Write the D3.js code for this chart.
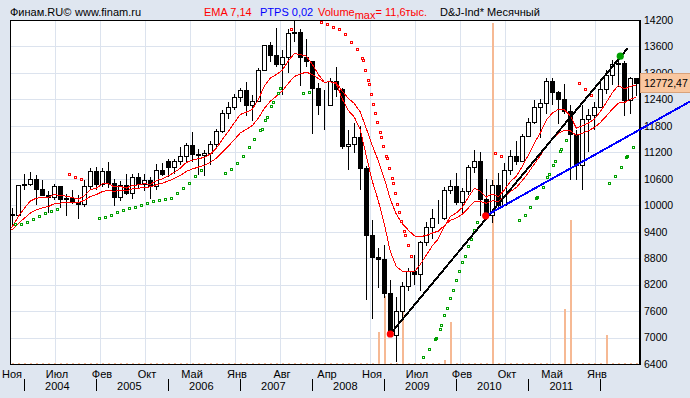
<!DOCTYPE html>
<html>
<head>
<meta charset="utf-8">
<script src="https://d3js.org/d3.v7.min.js"></script>
<style>
  body { margin: 0; background: #dfe6f0; }
  svg { display: block; font-family: "Liberation Sans", Arial, sans-serif; }
</style>
</head>
<body>
<svg width="690" height="398"></svg>
<script>
// D&J-Ind monthly candles, index 0 = Nov 2003 ... index 104 = Jul 2012
var opens = [
  9801, 9782, 10452, 10488, 10584, 10358, 10226, 10188, 10435, 10140,
  10174, 10080, 10027, 10428, 10783, 10490, 10766, 10504, 10193, 10467,
  10275, 10641, 10482, 10569, 10440, 10806, 10995, 10865, 10993, 11109,
  11367, 11168, 11150, 11186, 11381, 11679, 12081, 12222, 12463, 12622,
  12269, 12354, 13063, 13628, 13409, 13212, 13358, 13896, 13930, 13372,
  13262, 12650, 12266, 12263, 12820, 12638, 11350, 11378, 11544, 10851,
  9325, 8829, 8772, 8001, 7063, 7609, 8168, 8500, 8447, 9172,
  9496, 9712, 9713, 10345, 10428, 10067, 10325, 10857, 11009, 10137,
  9774, 10466, 10015, 10788, 11118, 11006, 11578, 11892, 12226, 12320,
  12811, 12570, 12414, 12143, 11614, 10913, 11955, 12046, 12218, 12633,
  12952, 13212, 13214, 12393, 12880
];
var highs = [
  9933, 10453, 10702, 10753, 10678, 10570, 10317, 10479, 10435, 10251,
  10342, 10239, 10573, 10855, 10868, 10841, 10984, 10604, 10542, 10709,
  10705, 10720, 10717, 10644, 10941, 10960, 11043, 11058, 11317, 11411,
  11670, 11282, 11244, 11461, 11718, 12167, 12342, 12529, 12658, 12786,
  12490, 13120, 13633, 13692, 14022, 13513, 14000, 14198, 13995, 13779,
  13279, 12767, 12622, 12891, 13136, 12668, 11698, 11867, 11791, 10882,
  9654, 9026, 9088, 8315, 7925, 8265, 8588, 8878, 9199, 9630,
  9918, 10119, 10406, 10580, 10729, 10402, 10907, 11258, 11205, 10595,
  10580, 10720, 10948, 11245, 11451, 11625, 11986, 12391, 12419, 12876,
  12876, 12580, 12753, 12284, 11717, 12284, 12188, 12330, 12841, 13056,
  13290, 13338, 13280, 12898, 12896
];
var lows = [
  9537, 9762, 10368, 10450, 10030, 10225, 9852, 10138, 9961, 9785,
  10048, 9708, 9991, 10387, 10368, 10430, 10404, 10013, 10108, 10252,
  10170, 10397, 10337, 10156, 10379, 10686, 10667, 10732, 10931, 10979,
  11009, 10699, 10684, 10929, 11336, 11653, 11987, 12183, 12366, 12051,
  11926, 12354, 13062, 13266, 13152, 12518, 13028, 13730, 12724, 13168,
  11634, 12069, 11731, 12263, 12478, 11288, 10827, 11210, 10365, 7882,
  7449, 8149, 7909, 7042, 6470, 7473, 8087, 8221, 8088, 9091,
  9252, 9595, 9679, 10281, 10039, 9836, 10265, 10745, 9774, 9758,
  9614, 9937, 9998, 10711, 10929, 11006, 11578, 11859, 11555, 12093,
  12285, 11862, 12093, 10604, 10597, 10362, 11231, 11735, 12218, 12553,
  12747, 12710, 12035, 12101, 12492
];
var closes = [
  9782, 10453, 10488, 10584, 10358, 10226, 10188, 10435, 10140, 10174,
  10080, 10027, 10428, 10783, 10490, 10766, 10504, 10193, 10467, 10275,
  10641, 10482, 10569, 10440, 10806, 10718, 10865, 10993, 11109, 11367,
  11168, 11150, 11186, 11381, 11679, 12081, 12222, 12463, 12622, 12269,
  12354, 13063, 13628, 13409, 13212, 13358, 13896, 13930, 13372, 13265,
  12650, 12266, 12263, 12820, 12638, 11350, 11378, 11544, 10851, 9325,
  8829, 8776, 8001, 7063, 7609, 8168, 8500, 8447, 9172, 9496,
  9712, 9713, 10345, 10428, 10067, 10325, 10857, 11009, 10137, 9774,
  10466, 10015, 10788, 11118, 11006, 11578, 11892, 12226, 12320, 12811,
  12570, 12414, 12143, 11614, 10913, 11955, 12046, 12218, 12633, 12952,
  13212, 13214, 12393, 12880, 12772.47
];
// volume, thousands
var volumes = [
  0.05, 0.05, 0.05, 0.05, 0.05, 0.05, 0.05, 0.05, 0.05, 0.05,
  0.05, 0.05, 0.05, 0.05, 0.05, 0.05, 0.05, 0.05, 0.05, 0.05,
  0.05, 0.05, 0.05, 0.05, 0.05, 0.05, 0.05, 0.05, 0.05, 0.05,
  0.05, 0.05, 0.05, 0.05, 0.05, 0.05, 0.05, 0.05, 0.05, 0.05,
  0.05, 0.05, 0.05, 0.05, 0.05, 0.05, 0.05, 0.05, 0.05, 0.05,
  0.05, 0.05, 0.05, 0.05, 0.05, 0.05, 0.05, 0.05, 0.05, 0.05,
  0.05, 1.08, 2.29, 0.05, 0.05, 1.82, 0.05, 0.05, 0.05, 0.05,
  0.05, 0.05, 0.13, 1.42, 0.05, 0.05, 0.05, 0.05, 0.05, 0.05,
  11.5, 0.05, 0.05, 0.05, 0.05, 0.05, 0.05, 0.05, 0.05, 0.05,
  0.05, 0.05, 1.85, 4.86, 0.05, 0.05, 0.05, 0.05, 0.05, 0.98,
  0.05, 0.05, 0.05, 0.05, 0.05
];
var volumeMax = 11.6;

// EMA 7 and EMA 14, first value is Oct 2003 (index -1)
var ema7 = [
  9420, 9510, 9746, 9931, 10094, 10160, 10177, 10180, 10244, 10218,
  10207, 10175, 10138, 10210, 10353, 10387, 10482, 10488, 10414, 10427,
  10389, 10452, 10460, 10487, 10475, 10558, 10598, 10665, 10747, 10838,
  10970, 11020, 11053, 11086, 11160, 11290, 11488, 11672, 11870, 12058,
  12111, 12172, 12395, 12703, 12880, 12963, 13062, 13271, 13436, 13420,
  13381, 13198, 12965, 12790, 12798, 12758, 12406, 12149, 11998, 11711,
  11115, 10544, 10102, 9577, 8949, 8614, 8503, 8502, 8488, 8659,
  8868, 9079, 9238, 9515, 9743, 9824, 9949, 10176, 10384, 10322,
  10185, 10255, 10195, 10343, 10537, 10654, 10885, 11137, 11409, 11637,
  11931, 12091, 12172, 12165, 12027, 11749, 11801, 11862, 11951, 12122,
  12330, 12551, 12717, 12636, 12697, 12716
];
var ema14 = [
  9400, 9451, 9585, 9705, 9822, 9894, 9938, 9971, 10033, 10047,
  10064, 10066, 10061, 10110, 10200, 10239, 10309, 10335, 10316, 10336,
  10328, 10370, 10385, 10410, 10414, 10466, 10500, 10549, 10608, 10675,
  10767, 10821, 10865, 10908, 10971, 11065, 11201, 11337, 11487, 11638,
  11722, 11806, 11974, 12194, 12356, 12470, 12588, 12762, 12918, 12978,
  13016, 12967, 12874, 12792, 12796, 12775, 12585, 12424, 12307, 12113,
  11741, 11353, 11009, 10608, 10135, 9798, 9581, 9437, 9305, 9287,
  9315, 9368, 9414, 9538, 9657, 9712, 9794, 9936, 10079, 10087,
  10045, 10101, 10090, 10183, 10308, 10401, 10558, 10736, 10935, 11120,
  11346, 11509, 11630, 11698, 11687, 11584, 11634, 11689, 11760, 11876,
  12020, 12179, 12317, 12327, 12401, 12450
];

// parabolic SAR dots: [month position, value]
var sarBelow = [
  [0.67, 9545], [1.67, 9545], [2.67, 9590], [3.67, 9658], [4.67, 9726], [5.67, 9794], [6.67, 9840], [7.67, 9892],
  [14.67, 9681], [15.67, 9704], [16.67, 9749], [17.67, 9817], [18.67, 9862], [19.67, 9908], [20.67, 9930],
  [21.67, 9976], [22.67, 10021], [23.67, 10066], [24.67, 10089], [25.67, 10112], [26.67, 10148], [27.67, 10248],
  [28.67, 10361], [29.67, 10474], [30.67, 10633], [31.67, 10769],
  [35.67, 10701], [36.67, 10792], [37.67, 10930], [38.67, 11094], [39.57, 11293], [40.53, 11472], [41.53, 11678],
  [41.7, 11701], [42.33, 11903], [42.67, 11989], [43.33, 12220], [43.67, 12313], [44.37, 12515], [44.7, 12629],
  [48.67, 12515], [49.67, 12538],
  [68.67, 6529], [69.67, 6710], [70.62, 6944], [70.73, 6967], [71.4, 7164], [71.67, 7255], [72.17, 7481],
  [72.67, 7640], [73.17, 7867], [73.67, 8048], [74.17, 8275], [74.67, 8479], [75.17, 8683], [75.67, 8819],
  [76.17, 9046], [76.67, 9205], [77.17, 9409], [77.67, 9590],
  [84.67, 9635], [85.67, 9749], [86.5, 9930], [87.5, 10134], [87.67, 10157], [88.67, 10384], [89.33, 10610],
  [89.67, 10679], [90.33, 10883], [90.67, 10973], [91.5, 11200], [91.67, 11245], [92.5, 11450],
  [99.67, 10475], [100.67, 10633], [101.67, 10837], [102.5, 11064], [102.67, 11087], [103.67, 11291]
];
var sarAbove = [
  [9.67, 10679], [10.67, 10624], [11.67, 10565],
  [46.67, 13966],
  [51.67, 14125], [52.67, 14080], [53.67, 14019], [54.67, 13966], [55.67, 13853], [56.67, 13672], [57.67, 13513],
  [58.5, 13309], [58.67, 13264], [59.0, 13037], [59.5, 12810], [59.67, 12719], [60.0, 12493], [60.33, 12266],
  [60.67, 12062], [61.0, 11858], [61.5, 11631], [61.67, 11524], [62.0, 11314], [62.5, 11087], [62.67, 11042],
  [63.0, 10815], [63.5, 10588], [63.67, 10475], [64.0, 10255], [64.33, 10016], [64.67, 9817], [65.0, 9615],
  [65.53, 9388], [65.67, 9295], [66.17, 9069], [66.67, 8831],
  [80.67, 11155], [81.67, 11087],
  [94.67, 12742], [95.67, 12606], [96.67, 12470]
];

// trend lines and marked points
var blackLine = [[63, 7080], [102.55, 13558]];
var blueLine = [[78.9, 9760], [112.95, 12352]];
var redMarks = [[63, 7080], [78.9, 9760]];
var greenMarks = [[101.33, 13380]];

var lastPrice = 12772.47;
var yTicks = [6400, 7000, 7600, 8200, 8800, 9400, 10000, 10600, 11200, 11800, 12400, 13000, 13600, 14200];
var monthLabels = ['Ноя', 'Июл', 'Фев', 'Окт', 'Май', 'Янв', 'Авг', 'Апр', 'Ноя', 'Июл', 'Фев', 'Окт', 'Май', 'Янв'];
var yearStarts = [2, 14, 26, 38, 50, 62, 74, 86, 98];
var yearLabels = ['2004', '2005', '2006', '2007', '2008', '2009', '2010', '2011'];

var W = 690, H = 398;
var plot = { left: 10, top: 20, right: 640, bottom: 364 };

var svg = d3.select('svg');

var x = d3.scaleLinear().domain([0, 104]).range([12.3, 636.3]);
var y = d3.scaleLinear().domain([6400, 14200]).range([plot.bottom, plot.top]);
var yVol = d3.scaleLinear().domain([0, volumeMax]).range([plot.bottom, plot.top]);
var px = function (t) { return Math.round(x(t)) + 0.5; };
var py = function (v) { return Math.round(y(v)) + 0.5; };

svg.append('rect').attr('width', W).attr('height', H).attr('fill', '#dfe6f0');
svg.append('rect')
  .attr('x', plot.left).attr('y', plot.top)
  .attr('width', plot.right - plot.left).attr('height', plot.bottom - plot.top)
  .attr('fill', '#fff');

svg.append('clipPath').attr('id', 'clip').append('rect')
  .attr('x', plot.left).attr('y', plot.top)
  .attr('width', plot.right - plot.left).attr('height', plot.bottom - plot.top);

// grid lines (every 7.5 months horizontally)
var gridT = monthLabels.map(function (d, k) { return 7.5 * k - 0.38; });

var xGrid = d3.axisBottom(x)
  .tickValues(gridT)
  .tickSize(-(plot.bottom - plot.top))
  .tickPadding(6)
  .tickFormat(function (d, k) { return monthLabels[k]; });
svg.append('g')
  .attr('transform', 'translate(0,' + plot.bottom + ')')
  .call(xGrid)
  .call(function (g) {
    g.select('.domain').remove();
    g.selectAll('line').attr('stroke', '#dce3ee').attr('shape-rendering', 'crispEdges');
    g.selectAll('text').attr('font-size', 11).attr('fill', '#000')
      .attr('font-family', '"Liberation Sans", Arial, sans-serif').attr('dx', 1.5);
  });

var yGrid = d3.axisLeft(y)
  .tickValues(yTicks)
  .tickSize(-(plot.right - plot.left))
  .tickFormat('');
svg.append('g')
  .attr('transform', 'translate(' + plot.left + ',0)')
  .call(yGrid)
  .call(function (g) {
    g.select('.domain').remove();
    g.selectAll('line').attr('stroke', '#dce3ee').attr('shape-rendering', 'crispEdges');
  });

// volume
svg.append('g').selectAll('rect')
  .data(volumes)
  .join('rect')
  .attr('x', function (d, i) { return px(i) - 0.5; })
  .attr('y', function (d) { return Math.round(yVol(d)); })
  .attr('width', 2)
  .attr('height', function (d) { return plot.bottom - Math.round(yVol(d)); })
  .attr('fill', '#f6b994');

// candles
var candles = closes.map(function (c, i) {
  return { i: i, o: opens[i], h: highs[i], l: lows[i], c: c };
});
var cg = svg.append('g').attr('shape-rendering', 'crispEdges');
cg.selectAll('line')
  .data(candles)
  .join('line')
  .attr('x1', function (d) { return px(d.i); })
  .attr('x2', function (d) { return px(d.i); })
  .attr('y1', function (d) { return Math.round(y(d.h)); })
  .attr('y2', function (d) { return Math.round(y(d.l)) + 1; })
  .attr('stroke', '#000');
cg.selectAll('rect')
  .data(candles)
  .join('rect')
  .attr('x', function (d) { return px(d.i) - 2; })
  .attr('y', function (d) { return py(Math.max(d.o, d.c)); })
  .attr('width', 4)
  .attr('height', function (d) { return py(Math.min(d.o, d.c)) - py(Math.max(d.o, d.c)); })
  .attr('fill', function (d) { return d.c < d.o ? '#000' : '#fff'; })
  .attr('stroke', '#000');

// EMA lines
var emaLine = d3.line()
  .x(function (d) { return x(d[0]); })
  .y(function (d) { return y(d[1]); });
[ema7, ema14].forEach(function (arr) {
  svg.append('path')
    .datum(arr.map(function (v, k) { return [k - 1, v]; }))
    .attr('d', emaLine)
    .attr('clip-path', 'url(#clip)')
    .attr('fill', 'none')
    .attr('stroke', '#ff0000')
    .attr('stroke-width', 1)
    .attr('shape-rendering', 'crispEdges');
});

// SAR dots
function drawSar(data, color) {
  svg.append('g').selectAll('rect')
    .data(data)
    .join('rect')
    .attr('x', function (d) { return Math.round(x(d[0])) - 1.5; })
    .attr('y', function (d) { return Math.round(y(d[1])) - 1.5; })
    .attr('width', 2)
    .attr('height', 2)
    .attr('fill', 'none')
    .attr('stroke', color)
    .attr('shape-rendering', 'crispEdges');
}
drawSar(sarBelow, '#00a000');
drawSar(sarAbove, '#ff0000');

// frame
svg.append('rect')
  .attr('x', plot.left + 0.5).attr('y', plot.top + 0.5)
  .attr('width', plot.right - plot.left - 1).attr('height', plot.bottom - plot.top)
  .attr('fill', 'none').attr('stroke', '#000');
svg.append('line')
  .attr('x1', plot.right).attr('x2', plot.right)
  .attr('y1', plot.top).attr('y2', plot.bottom + 1)
  .attr('stroke', '#000').attr('stroke-width', 2);

// right axis labels
var yAxis = d3.axisRight(y).tickValues(yTicks).tickSize(0).tickPadding(4)
  .tickFormat(d3.format('d'));
svg.append('g')
  .attr('transform', 'translate(' + plot.right + ',0)')
  .call(yAxis)
  .call(function (g) {
    g.select('.domain').remove();
    g.selectAll('text').attr('font-size', 10.5).attr('fill', '#000')
      .attr('font-family', '"Liberation Sans", Arial, sans-serif');
  });

// current price box
var priceY = y(lastPrice);
svg.append('rect')
  .attr('x', plot.right + 0.5).attr('y', Math.round(priceY) - 9.5)
  .attr('width', W - plot.right).attr('height', 19)
  .attr('fill', '#f9c7a0').attr('stroke', '#d9a27a');
svg.append('text')
  .attr('x', plot.right + 4).attr('y', priceY).attr('dy', '0.36em')
  .attr('font-size', 10.5).attr('fill', '#000')
  .text(d3.format('.2f')(lastPrice).replace('.', ','));

// trend lines and points
var tl = d3.line()
  .x(function (d) { return x(d[0]); })
  .y(function (d) { return y(d[1]); });
svg.append('path').datum(blackLine).attr('d', tl)
  .attr('stroke', '#000').attr('stroke-width', 2).attr('fill', 'none')
  .attr('shape-rendering', 'crispEdges');
svg.append('path').datum(blueLine).attr('d', tl)
  .attr('stroke', '#0000ff').attr('stroke-width', 2).attr('fill', 'none')
  .attr('shape-rendering', 'crispEdges');
svg.append('g').selectAll('circle')
  .data(redMarks).join('circle')
  .attr('cx', function (d) { return x(d[0]); })
  .attr('cy', function (d) { return y(d[1]); })
  .attr('r', 3.6).attr('fill', '#ff0000');
svg.append('g').selectAll('circle')
  .data(greenMarks).join('circle')
  .attr('cx', function (d) { return x(d[0]); })
  .attr('cy', function (d) { return y(d[1]); })
  .attr('r', 3.6).attr('fill', '#00a000');

// year row
svg.append('g').selectAll('line')
  .data(yearStarts).join('line')
  .attr('x1', function (d) { return px(d); })
  .attr('x2', function (d) { return px(d); })
  .attr('y1', 379).attr('y2', 391)
  .attr('stroke', '#000').attr('shape-rendering', 'crispEdges');
svg.append('g').selectAll('text')
  .data(yearLabels).join('text')
  .attr('x', function (d, k) { return x(yearStarts[k] + 5.5); })
  .attr('y', 390)
  .attr('text-anchor', 'middle')
  .attr('font-size', 11)
  .text(function (d) { return d; });

// header
var header = svg.append('g').attr('font-size', 11);
header.append('text').attr('x', 10).attr('y', 16).attr('fill', '#000').text('Финам.RU©');
header.append('text').attr('x', 75).attr('y', 16).attr('fill', '#000').text('www.finam.ru');
header.append('text').attr('x', 204).attr('y', 16).attr('fill', '#ff0000').text('EMA 7,14');
header.append('text').attr('x', 260).attr('y', 16).attr('fill', '#0000ff').text('PTPS 0,02');
var vt = header.append('text').attr('x', 318).attr('y', 16).attr('fill', '#ff0000');
vt.append('tspan').text('Volume');
vt.append('tspan').attr('dy', 3).text('max');
vt.append('tspan').attr('dy', -3).text('= ' + String(volumeMax).replace('.', ',') + 'тыс.');
header.append('text').attr('x', 440).attr('y', 16).attr('fill', '#000').text('D&J-Ind* Месячный');
</script>
</body>
</html>
